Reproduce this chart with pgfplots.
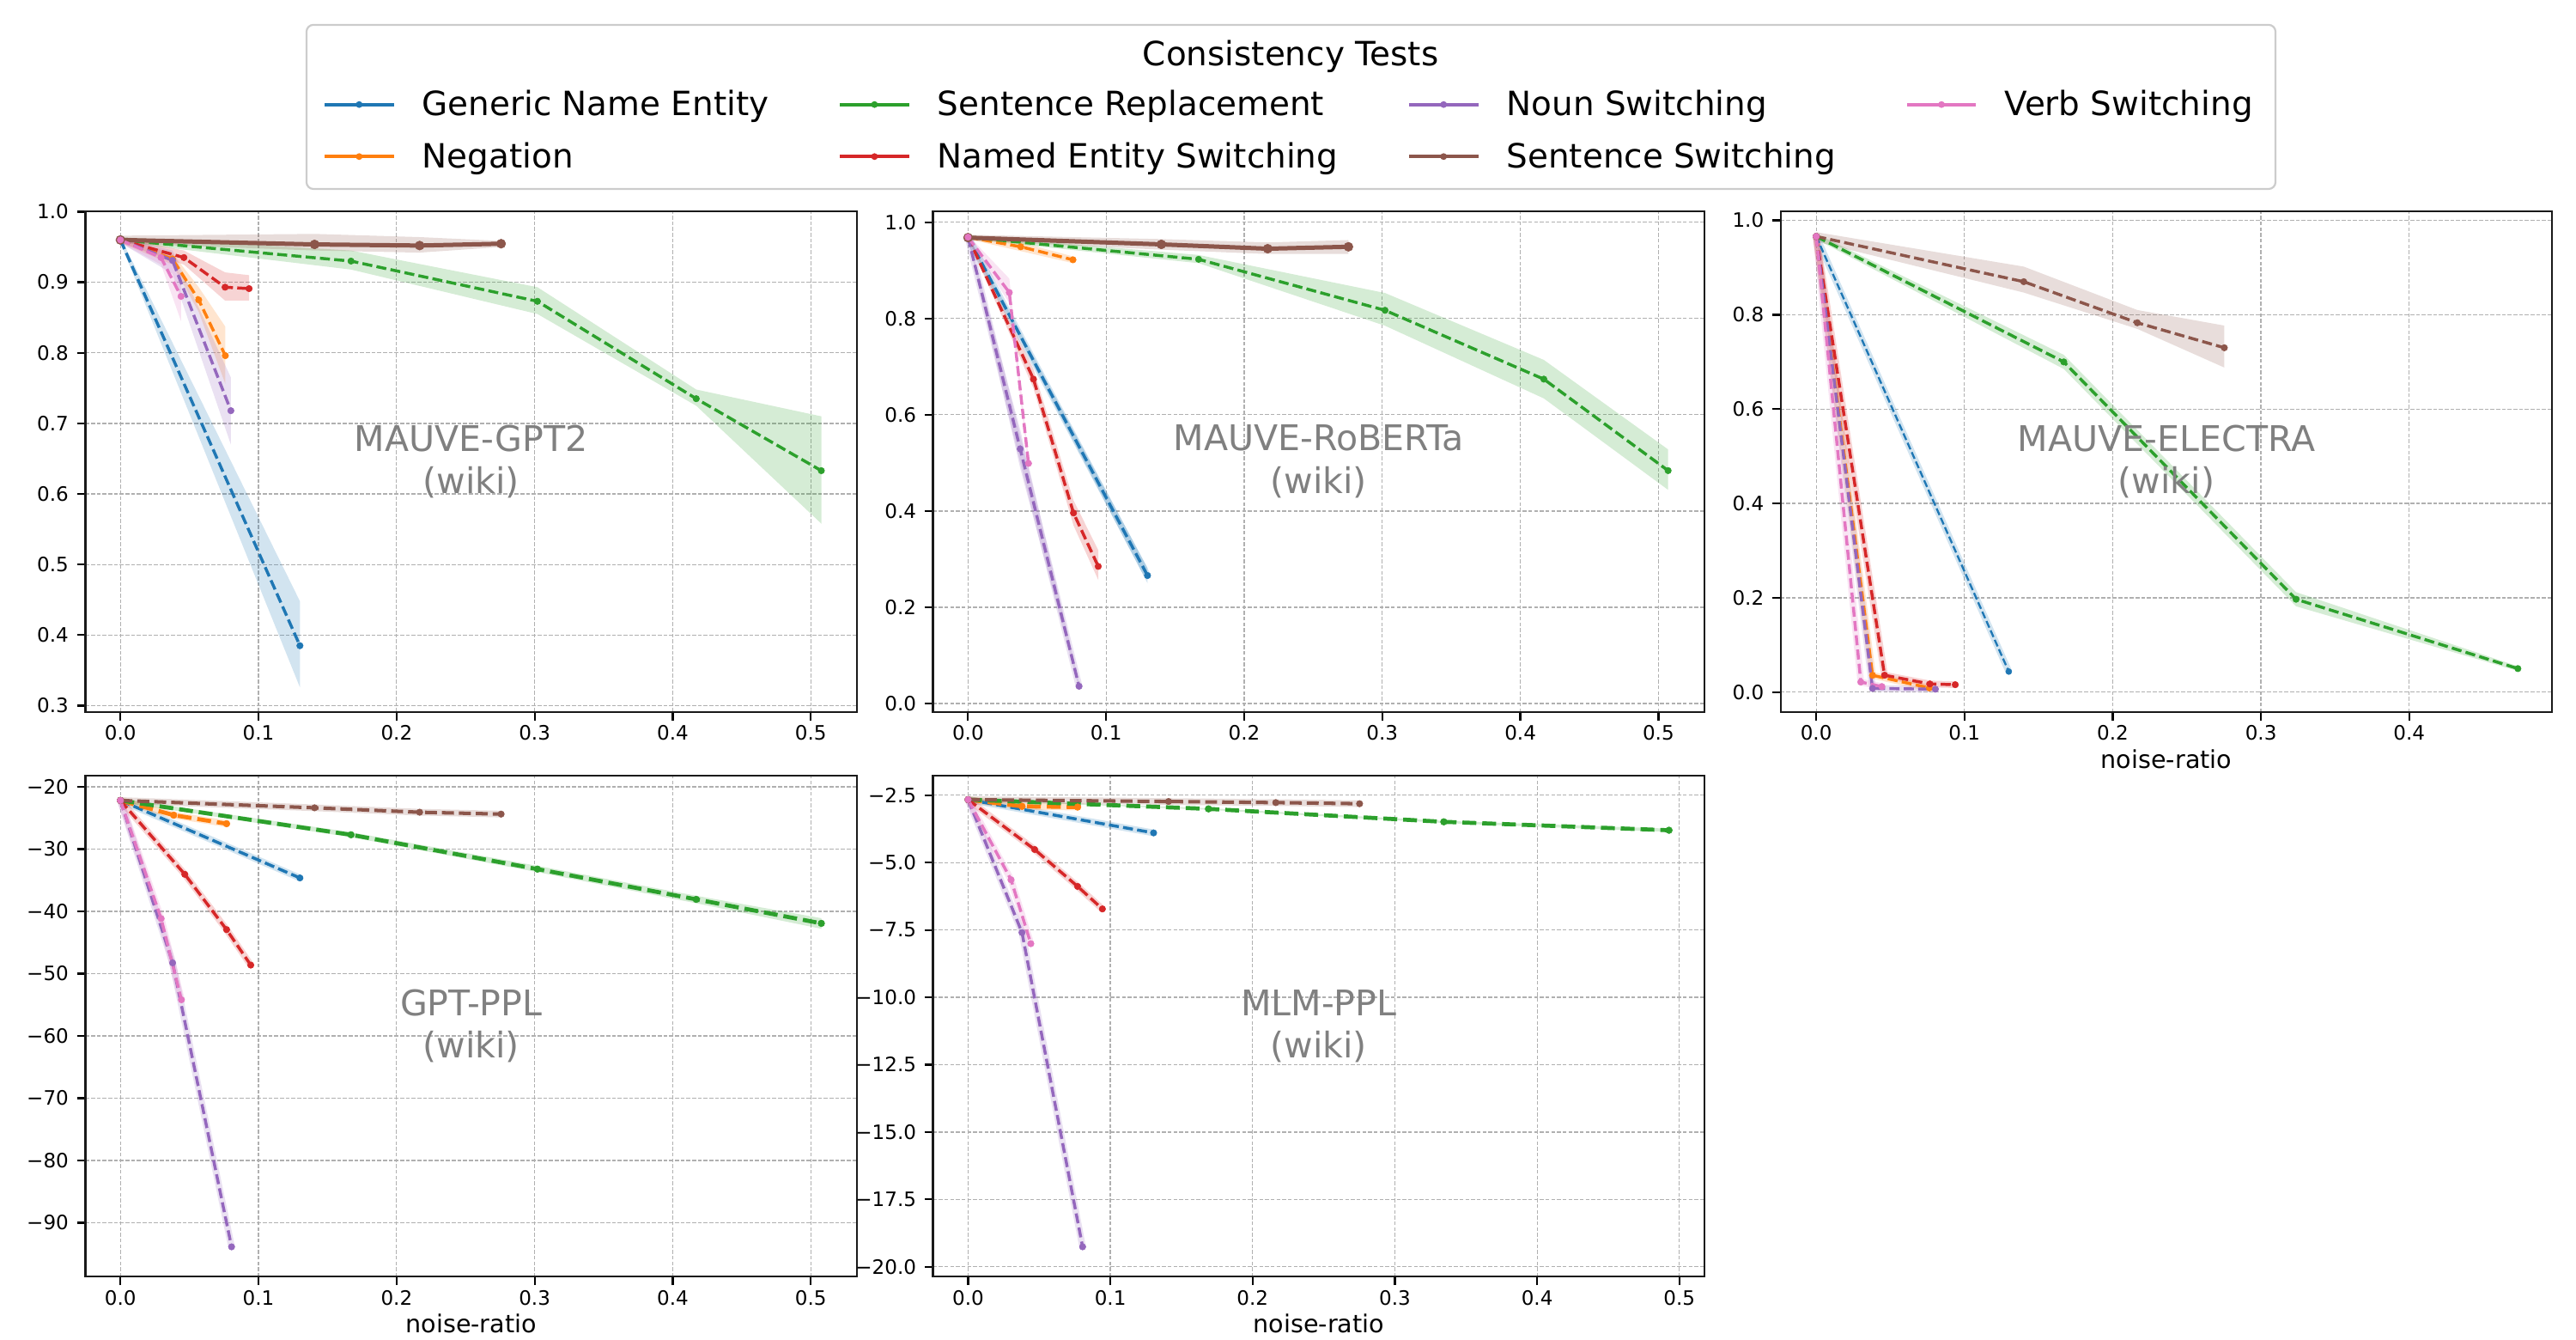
\documentclass[border=0pt]{standalone}
\usepackage{fontspec}
\setmainfont{DejaVu Sans}
\usepackage{pgfplots}
\usepackage{pgfplotstable}
\pgfplotsset{compat=1.18}

\definecolor{cblue}{HTML}{1F77B4}
\definecolor{corange}{HTML}{FF7F0E}
\definecolor{cgreen}{HTML}{2CA02C}
\definecolor{cred}{HTML}{D62728}
\definecolor{cpurple}{HTML}{9467BD}
\definecolor{cbrown}{HTML}{8C564B}
\definecolor{cpink}{HTML}{E377C2}
\definecolor{gridgray}{HTML}{B0B0B0}
\definecolor{framegray}{HTML}{CCCCCC}

% ---------------- Panel A : MAUVE-GPT2 ----------------
\pgfplotstableread{
x y
0 0.960
0.130 0.385
}\tAblue
\pgfplotstableread{
x y
0 0.960
0.0377 0.933
0.0567 0.875
0.0760 0.796
}\tAorange
\pgfplotstableread{
x y
0 0.960
0.167 0.930
0.302 0.873
0.417 0.735
0.5076 0.633
}\tAgreen
\pgfplotstableread{
x y
0 0.960
0.0460 0.935
0.0758 0.893
0.0932 0.891
}\tAred
\pgfplotstableread{
x y
0 0.960
0.0377 0.931
0.0800 0.718
}\tApurple
\pgfplotstableread{
x y
0 0.960
0.0294 0.935
0.0439 0.880
}\tApink
\pgfplotstableread{
x y
0 0.960
0.1406 0.9536
0.2167 0.952
0.2757 0.9546
}\tAbrown

% ---------------- Panel B : MAUVE-RoBERTa ----------------
\pgfplotstableread{
x y
0 0.969
0.130 0.266
}\tBblue
\pgfplotstableread{
x y
0 0.969
0.0382 0.949
0.0760 0.922
}\tBorange
\pgfplotstableread{
x y
0 0.969
0.167 0.923
0.302 0.817
0.417 0.674
0.507 0.484
}\tBgreen
\pgfplotstableread{
x y
0 0.969
0.0474 0.674
0.0764 0.396
0.0943 0.285
}\tBred
\pgfplotstableread{
x y
0 0.969
0.0378 0.529
0.0804 0.036
}\tBpurple
\pgfplotstableread{
x y
0 0.969
0.0299 0.854
0.0438 0.499
}\tBpink
\pgfplotstableread{
x y
0 0.968
0.140 0.954
0.217 0.945
0.2755 0.949
}\tBbrown

% ---------------- Panel C : MAUVE-ELECTRA ----------------
\pgfplotstableread{
x y
0 0.966
0.1299 0.0437
}\tCblue
\pgfplotstableread{
x y
0 0.966
0.038 0.0358
0.0763 0.009
}\tCorange
\pgfplotstableread{
x y
0 0.966
0.167 0.700
0.3237 0.197
0.4733 0.050
}\tCgreen
\pgfplotstableread{
x y
0 0.966
0.0461 0.036
0.0767 0.0175
0.0938 0.0159
}\tCred
\pgfplotstableread{
x y
0 0.966
0.038 0.008
0.0804 0.0064
}\tCpurple
\pgfplotstableread{
x y
0 0.966
0.0301 0.0215
0.0443 0.0119
}\tCpink
\pgfplotstableread{
x y
0 0.966
0.140 0.870
0.2166 0.783
0.2753 0.730
}\tCbrown

% ---------------- Panel D : GPT-PPL ----------------
\pgfplotstableread{
x y
0 -22.2
0.130 -34.64
}\tDblue
\pgfplotstableread{
x y
0 -22.2
0.0386 -24.56
0.0769 -25.93
}\tDorange
\pgfplotstableread{
x y
0 -22.2
0.167 -27.71
0.302 -33.22
0.417 -38.08
0.5076 -41.93
}\tDgreen
\pgfplotstableread{
x y
0 -22.2
0.0466 -34.05
0.0769 -42.94
0.0944 -48.63
}\tDred
\pgfplotstableread{
x y
0 -22.2
0.0378 -48.27
0.0805 -93.86
}\tDpurple
\pgfplotstableread{
x y
0 -22.2
0.0295 -41.16
0.0442 -54.2
}\tDpink
\pgfplotstableread{
x y
0 -22.2
0.1406 -23.38
0.2167 -24.09
0.2757 -24.39
}\tDbrown

% ---------------- Panel E : MLM-PPL ----------------
\pgfplotstableread{
x y
0 -2.664
0.1304 -3.898
}\tEblue
\pgfplotstableread{
x y
0 -2.664
0.0379 -2.911
0.077 -2.939
}\tEorange
\pgfplotstableread{
x y
0 -2.664
0.169 -3.007
0.3344 -3.487
0.4927 -3.80
}\tEgreen
\pgfplotstableread{
x y
0 -2.664
0.0468 -4.515
0.077 -5.885
0.0944 -6.721
}\tEred
\pgfplotstableread{
x y
0 -2.664
0.0379 -7.598
0.0805 -19.26
}\tEpurple
\pgfplotstableread{
x y
0 -2.664
0.0302 -5.638
0.0441 -8.009
}\tEpink
\pgfplotstableread{
x y
0 -2.664
0.1409 -2.733
0.2163 -2.774
0.2752 -2.815
}\tEbrown

% band polygon: upper edge forward, lower edge backward
\newcommand{\band}[2]{%
  \addplot[fill=#1, fill opacity=0.2, draw=none, forget plot] coordinates {#2};
}
% narrow confidence band drawn as a light halo along the data
\newcommand{\halo}[2]{%
  \addplot[#1, draw opacity=0.2, line width=2.8bp, solid, forget plot] table[x=x,y=y]{#2};
}
\newcommand{\lin}[3]{%
  \addplot[#1, #2, mark=*, mark options={solid, line width=0.2bp}, forget plot] table[x=x,y=y]{#3};
}

\tikzset{
  sd/.style={line width=1.25bp, dash pattern=on 4.2bp off 1.8bp, mark size=1.35bp},
  sdthin/.style={line width=0.85bp, dash pattern=on 3.0bp off 1.3bp, mark size=1.25bp},
  sdmid/.style={line width=1.45bp, dash pattern=on 5.0bp off 2.1bp, mark size=1.35bp},
  sdthick/.style={line width=1.7bp, dash pattern=on 5.8bp off 2.5bp, mark size=1.4bp},
  ssolid/.style={line width=1.8bp, solid, mark size=1.9bp},
  anno/.style={font=\fontsize{14.8bp}{17.8bp}\selectfont, text=black!50, align=center},
}

\pgfplotsset{
  myax/.style={
    scale only axis, width=323.5bp, height=210bp,
    anchor=north west,
    tick align=outside, tick pos=left,
    major tick length=3.5bp,
    every tick/.style={black, line width=0.8bp},
    axis line style={line width=0.8bp, black!90},
    grid=major,
    major grid style={line width=0.45bp, color=gridgray, dash pattern=on 1.6bp off 0.8bp},
    ticklabel style={font=\fontsize{8.3bp}{10bp}\selectfont},
    xticklabel style={yshift=1.4bp},
    xlabel style={font=\fontsize{10.3bp}{12.4bp}\selectfont, yshift=3bp},
    xtick={0,0.1,0.2,0.3,0.4,0.5},
    xticklabels={0.0,0.1,0.2,0.3,0.4,0.5},
  },
}

\begin{document}
\begin{tikzpicture}
\useasboundingbox (0,0) rectangle (1080bp,-561.6bp);

% legend frame and title
\draw[rounded corners=2.9bp, draw=framegray, line width=0.8bp, fill=white] (128.5bp,-10.4bp) rectangle (954bp,-79.2bp);
\node[anchor=base, font=\fontsize{14bp}{16.8bp}\selectfont] at (541.1bp,-27.4bp) {Consistency Tests};

% ===== Panel A =====
\begin{axis}[myax, at={(35.78bp,-88.42bp)},
  xmin=-0.0254, xmax=0.5334, ymin=0.291, ymax=1.001,
  ytick={0.3,0.4,0.5,0.6,0.7,0.8,0.9,1.0},
  yticklabels={0.3,0.4,0.5,0.6,0.7,0.8,0.9,1.0},
  legend columns=4,
  legend cell align=left,
  legend image code/.code={%
    \draw[#1, solid, line width=1.4bp] (0bp,0bp) -- (29bp,0bp);
    \fill[#1] (14.5bp,0bp) circle (1.2bp);},
  legend style={draw=none, fill=none, inner sep=0pt,
    at={(1.5585,1.1605)}, anchor=center,
    font=\fontsize{14bp}{16.8bp}\selectfont,
    column sep=11.2bp, row sep=6bp,
    nodes={inner sep=0pt, text height=12.5bp, text depth=3.3bp},
    /tikz/every even column/.append style={column sep=29.1bp}},
]
\band{cblue}{(0,0.964)(0.130,0.448)(0.130,0.326)(0,0.956)}
\band{corange}{(0,0.964)(0.0377,0.941)(0.0567,0.893)(0.0760,0.837)(0.0760,0.756)(0.0567,0.858)(0.0377,0.925)(0,0.956)}
\band{cgreen}{(0,0.964)(0.167,0.945)(0.302,0.893)(0.417,0.748)(0.5076,0.710)(0.5076,0.558)(0.417,0.725)(0.302,0.855)(0.167,0.918)(0,0.957)}
\band{cred}{(0,0.964)(0.0460,0.945)(0.0758,0.914)(0.0932,0.910)(0.0932,0.874)(0.0758,0.874)(0.0460,0.925)(0,0.956)}
\band{cpurple}{(0,0.964)(0.0377,0.945)(0.0800,0.765)(0.0800,0.670)(0.0377,0.912)(0,0.956)}
\band{cbrown}{(0,0.966)(0.1406,0.9685)(0.2167,0.964)(0.2757,0.9586)(0.2757,0.950)(0.2167,0.942)(0.1406,0.945)(0,0.955)}
\band{cpink}{(0,0.964)(0.0294,0.945)(0.0439,0.910)(0.0439,0.845)(0.0294,0.925)(0,0.956)}
\lin{cblue}{sd}{\tAblue}
\lin{corange}{sd}{\tAorange}
\lin{cgreen}{sd}{\tAgreen}
\lin{cred}{sd}{\tAred}
\lin{cpurple}{sd}{\tApurple}
\lin{cbrown}{ssolid}{\tAbrown}
\lin{cpink}{sd}{\tApink}
\node[anno] at (rel axis cs:0.5,0.5) {MAUVE-GPT2\\(wiki)};
\addlegendimage{cblue}\addlegendentry{Generic Name Entity}
\addlegendimage{cgreen}\addlegendentry{Sentence Replacement}
\addlegendimage{cpurple}\addlegendentry{Noun Switching}
\addlegendimage{cpink}\addlegendentry{Verb Switching}
\addlegendimage{corange}\addlegendentry{Negation}
\addlegendimage{cred}\addlegendentry{Named Entity Switching}
\addlegendimage{cbrown}\addlegendentry{Sentence Switching}
\end{axis}

% ===== Panel B =====
\begin{axis}[myax, at={(391.14bp,-88.42bp)},
  xmin=-0.0254, xmax=0.5334, ymin=-0.0176, ymax=1.0234,
  ytick={0,0.2,0.4,0.6,0.8,1.0},
  yticklabels={0.0,0.2,0.4,0.6,0.8,1.0},
]
\band{cblue}{(0,0.973)(0.130,0.282)(0.130,0.250)(0,0.965)}
\band{corange}{(0,0.973)(0.0382,0.958)(0.0760,0.929)(0.0760,0.915)(0.0382,0.940)(0,0.965)}
\band{cgreen}{(0,0.973)(0.167,0.932)(0.302,0.853)(0.417,0.714)(0.507,0.528)(0.507,0.444)(0.417,0.634)(0.302,0.785)(0.167,0.915)(0,0.965)}
\band{cred}{(0,0.973)(0.0474,0.695)(0.0764,0.422)(0.0943,0.319)(0.0943,0.257)(0.0764,0.370)(0.0474,0.655)(0,0.965)}
\band{cpurple}{(0,0.973)(0.0378,0.569)(0.0804,0.045)(0.0804,0.030)(0.0378,0.489)(0,0.965)}
\band{cbrown}{(0,0.974)(0.140,0.965)(0.217,0.958)(0.2755,0.963)(0.2755,0.934)(0.217,0.934)(0.140,0.943)(0,0.962)}
\band{cpink}{(0,0.973)(0.0299,0.883)(0.0438,0.510)(0.0438,0.490)(0.0299,0.832)(0,0.965)}
\halo{cblue}{\tBblue}
\halo{cpurple}{\tBpurple}
\lin{cblue}{sd}{\tBblue}
\lin{corange}{sd}{\tBorange}
\lin{cgreen}{sd}{\tBgreen}
\lin{cred}{sd}{\tBred}
\lin{cpurple}{sd}{\tBpurple}
\lin{cbrown}{ssolid}{\tBbrown}
\lin{cpink}{sd}{\tBpink}
\node[anno] at (rel axis cs:0.5,0.5) {MAUVE-RoBERTa\\(wiki)};
\end{axis}

% ===== Panel C =====
\begin{axis}[myax, at={(746.53bp,-88.42bp)},
  xmin=-0.0240, xmax=0.4965, ymin=-0.0421, ymax=1.0199,
  xtick={0,0.1,0.2,0.3,0.4},
  xticklabels={0.0,0.1,0.2,0.3,0.4},
  ytick={0,0.2,0.4,0.6,0.8,1.0},
  yticklabels={0.0,0.2,0.4,0.6,0.8,1.0},
  xlabel={noise-ratio},
]
\band{cgreen}{(0,0.972)(0.167,0.715)(0.3237,0.212)(0.4733,0.055)(0.4733,0.045)(0.3237,0.182)(0.167,0.685)(0,0.960)}
\band{cbrown}{(0,0.975)(0.140,0.902)(0.2166,0.810)(0.2753,0.777)(0.2753,0.688)(0.2166,0.770)(0.140,0.847)(0,0.955)}
\halo{cblue}{\tCblue}
\halo{corange}{\tCorange}
\halo{cred}{\tCred}
\halo{cpurple}{\tCpurple}
\halo{cpink}{\tCpink}
\lin{cblue}{sdthin}{\tCblue}
\lin{corange}{sd}{\tCorange}
\lin{cgreen}{sd}{\tCgreen}
\lin{cred}{sd}{\tCred}
\lin{cpurple}{sd}{\tCpurple}
\lin{cbrown}{sd}{\tCbrown}
\lin{cpink}{sd}{\tCpink}
\node[anno] at (rel axis cs:0.5,0.5) {MAUVE-ELECTRA\\(wiki)};
\end{axis}

% ===== Panel D =====
\begin{axis}[myax, at={(35.78bp,-325.08bp)},
  xmin=-0.0254, xmax=0.5334, ymin=-98.66, ymax=-18.22,
  ytick={-90,-80,-70,-60,-50,-40,-30,-20},
  yticklabels={−90,−80,−70,−60,−50,−40,−30,−20},
  xlabel={noise-ratio},
]
\band{cgreen}{(0,-21.9)(0.167,-27.3)(0.302,-32.7)(0.417,-37.5)(0.5076,-41.1)(0.5076,-42.8)(0.417,-38.7)(0.302,-33.7)(0.167,-28.1)(0,-22.5)}
\halo{cblue}{\tDblue}
\halo{corange}{\tDorange}
\halo{cred}{\tDred}
\halo{cpurple}{\tDpurple}
\halo{cbrown}{\tDbrown}
\halo{cpink}{\tDpink}
\lin{cblue}{sd}{\tDblue}
\lin{corange}{sdthick}{\tDorange}
\lin{cgreen}{sdthick}{\tDgreen}
\lin{cred}{sd}{\tDred}
\lin{cpurple}{sd}{\tDpurple}
\lin{cbrown}{sdmid}{\tDbrown}
\lin{cpink}{sd}{\tDpink}
\node[anno] at (rel axis cs:0.5,0.5) {GPT-PPL\\(wiki)};
\end{axis}

% ===== Panel E =====
\begin{axis}[myax, at={(391.14bp,-325.08bp)},
  xmin=-0.0247, xmax=0.5177, ymin=-20.37, ymax=-1.774,
  ytick={-20,-17.5,-15,-12.5,-10,-7.5,-5,-2.5},
  yticklabels={−20.0,−17.5,−15.0,−12.5,−10.0,−7.5,−5.0,−2.5},
  xlabel={noise-ratio},
]
\band{cgreen}{(0,-2.65)(0.169,-2.98)(0.3344,-3.45)(0.4927,-3.74)(0.4927,-3.86)(0.3344,-3.53)(0.169,-3.04)(0,-2.68)}
\halo{cblue}{\tEblue}
\halo{corange}{\tEorange}
\halo{cred}{\tEred}
\halo{cpurple}{\tEpurple}
\halo{cbrown}{\tEbrown}
\halo{cpink}{\tEpink}
\lin{cblue}{sd}{\tEblue}
\lin{corange}{sdthick}{\tEorange}
\lin{cgreen}{sdthick}{\tEgreen}
\lin{cred}{sd}{\tEred}
\lin{cpurple}{sd}{\tEpurple}
\lin{cbrown}{sdmid}{\tEbrown}
\lin{cpink}{sd}{\tEpink}
\node[anno] at (rel axis cs:0.5,0.5) {MLM-PPL\\(wiki)};
\end{axis}
\end{tikzpicture}
\end{document}
